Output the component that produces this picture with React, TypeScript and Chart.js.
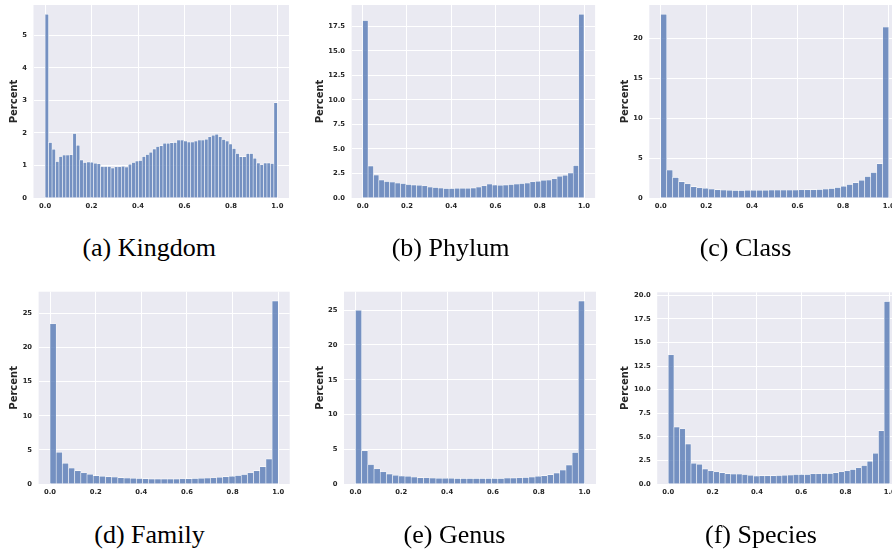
import React, { useEffect, useRef } from "react";
import { Chart, registerables } from "chart.js";

Chart.register(...registerables);

// ---------- data (percent of samples per bin, bins span [0, 1]) ----------
const xTicks = [0, 0.2, 0.4, 0.6, 0.8, 1.0];

const kingdomValues = [
  5.65, 1.71, 1.5, 1.12, 1.28, 1.32, 1.32, 1.33, 1.98, 1.62, 1.17, 1.09, 1.11, 1.1, 1.07, 1.05, 0.97,
  0.97, 0.97, 0.92, 0.96, 0.96, 0.98, 0.95, 1.04, 1.09, 1.14, 1.15, 1.28, 1.34, 1.41, 1.51, 1.58, 1.61,
  1.68, 1.68, 1.7, 1.71, 1.78, 1.78, 1.75, 1.72, 1.72, 1.75, 1.78, 1.78, 1.81, 1.88, 1.93, 1.96, 1.88,
  1.8, 1.75, 1.66, 1.52, 1.37, 1.27, 1.27, 1.37, 1.37, 1.22, 1.08, 1.02, 1.08, 1.08, 1.06, 2.93,
];
const phylumValues = [
  18.1, 3.27, 2.35, 1.85, 1.68, 1.63, 1.52, 1.47, 1.38, 1.34, 1.3, 1.24, 1.12, 1.08, 1.02, 0.98, 0.97,
  1.0, 1.0, 1.0, 1.03, 1.12, 1.25, 1.43, 1.33, 1.3, 1.34, 1.38, 1.42, 1.48, 1.53, 1.65, 1.72, 1.82,
  1.83, 1.96, 2.22, 2.33, 2.56, 3.32, 18.75,
];
const classValues = [
  23.0, 3.5, 2.58, 2.05, 1.78, 1.42, 1.28, 1.22, 1.12, 1.05, 1.0, 0.97, 0.95, 0.95, 0.96, 0.97, 0.97,
  0.98, 1.0, 1.0, 1.0, 1.0, 1.0, 1.02, 1.05, 1.05, 1.08, 1.12, 1.2, 1.32, 1.48, 1.68, 1.92, 2.22, 2.68,
  3.18, 4.3, 21.4,
];
const familyValues = [
  23.5, 4.65, 3.05, 2.35, 1.95, 1.65, 1.42, 1.22, 1.15, 1.07, 1.02, 0.93, 0.88, 0.86, 0.8, 0.78, 0.74,
  0.74, 0.74, 0.74, 0.74, 0.76, 0.78, 0.82, 0.84, 0.87, 0.92, 1.0, 1.07, 1.15, 1.26, 1.38, 1.65, 1.95,
  2.55, 3.68, 26.85,
];
const genusValues = [
  25.0, 4.8, 2.8, 2.2, 1.75, 1.45, 1.25, 1.15, 1.1, 1.0, 0.92, 0.9, 0.85, 0.82, 0.82, 0.82, 0.8, 0.8,
  0.8, 0.8, 0.8, 0.8, 0.8, 0.8, 0.85, 0.88, 0.9, 0.95, 1.0, 1.1, 1.2, 1.35, 1.6, 2.0, 2.75, 4.55, 26.35,
];
const speciesValues = [
  13.7, 6.05, 5.85, 4.25, 2.2, 2.1, 1.6, 1.4, 1.3, 1.2, 1.1, 1.05, 1.05, 1.0, 0.92, 0.85, 0.88, 0.88,
  0.88, 0.9, 0.92, 0.95, 1.0, 1.02, 1.0, 1.08, 1.08, 1.12, 1.12, 1.2, 1.3, 1.4, 1.55, 1.72, 1.95, 2.42,
  3.25, 5.65, 19.35,
];

const kingdomYTicks = [0, 1, 2, 3, 4, 5];
const phylumYTicks = [0, 2.5, 5, 7.5, 10, 12.5, 15, 17.5];
const classYTicks = [0, 5, 10, 15, 20];
const familyYTicks = [0, 5, 10, 15, 20, 25];
const genusYTicks = [0, 5, 10, 15, 20, 25];
const speciesYTicks = [0, 2.5, 5, 7.5, 10, 12.5, 15, 17.5, 20];

const captions = ["(a) Kingdom", "(b) Phylum", "(c) Class", "(d) Family", "(e) Genus", "(f) Species"];

// ---------- layout ----------
type Panel = {
  values: number[];
  yTicks: number[];
  yDecimals: number;
  caption: string;
  area: [number, number, number, number]; // left, top, right, bottom of plot area
  canvasLeft: number;
  canvasTop: number;
  titleX: number;
  capX: number;
  capBaseline: number;
};

const panels: Panel[] = [
  { values: kingdomValues, yTicks: kingdomYTicks, yDecimals: 0, caption: captions[0], area: [33.5, 5, 289, 198], canvasLeft: 0, canvasTop: 0, titleX: 14, capX: 149.2, capBaseline: 257 },
  { values: phylumValues, yTicks: phylumYTicks, yDecimals: 1, caption: captions[1], area: [351.6, 5, 595.1, 198], canvasLeft: 300, canvasTop: 0, titleX: 320, capX: 450.5, capBaseline: 257 },
  { values: classValues, yTicks: classYTicks, yDecimals: 0, caption: captions[2], area: [649.3, 5, 900.1, 198], canvasLeft: 600, canvasTop: 0, titleX: 625, capX: 745.5, capBaseline: 257 },
  { values: familyValues, yTicks: familyYTicks, yDecimals: 0, caption: captions[3], area: [38.6, 291.7, 289.7, 484], canvasLeft: 0, canvasTop: 285, titleX: 14.5, capX: 149.5, capBaseline: 543.5 },
  { values: genusValues, yTicks: genusYTicks, yDecimals: 0, caption: captions[4], area: [344, 291.7, 596, 484], canvasLeft: 300, canvasTop: 285, titleX: 320, capX: 454.5, capBaseline: 543.5 },
  { values: speciesValues, yTicks: speciesYTicks, yDecimals: 1, caption: captions[5], area: [657.2, 292.3, 900.9, 484], canvasLeft: 600, canvasTop: 285, titleX: 625, capX: 761, capBaseline: 543.5 },
];

const TEXT = "#262626";
const tickFont = { family: "DejaVu Sans", size: 6.8, weight: "bold" as const };

const bgPlugin = {
  id: "darkgridBg",
  beforeDraw(chart: any) {
    const { ctx, chartArea: a } = chart;
    ctx.save();
    ctx.fillStyle = "#EAEAF2";
    ctx.fillRect(a.left, a.top, a.right - a.left, a.bottom - a.top);
    ctx.restore();
  },
};

function HistPanel({ p }: { p: Panel }) {
  const ref = useRef<HTMLCanvasElement | null>(null);
  const [L, T, R, B] = p.area;
  const cw = Math.ceil(R + 12 - p.canvasLeft);
  const ch = Math.ceil(B + 22 - p.canvasTop);

  useEffect(() => {
    if (!ref.current) return;
    const n = p.values.length;
    const yW = L - p.canvasLeft;
    const xH = ch - (B - p.canvasTop);
    const chart = new Chart(ref.current, {
      type: "bar",
      data: {
        datasets: [
          {
            data: p.values.map((v, i) => ({ x: (i + 0.5) / n, y: v })),
            backgroundColor: "rgba(76,114,176,0.75)",
            borderColor: "#ffffff",
            borderWidth: { top: 0.6, left: 0.55, right: 0.55, bottom: 0 },
            barPercentage: 1,
            categoryPercentage: 1,
          } as any,
        ],
      },
      options: {
        responsive: false,
        animation: false,
        devicePixelRatio: 1,
        layout: { padding: { left: 0, top: T - p.canvasTop, right: cw - (R - p.canvasLeft), bottom: 0 } },
        plugins: { legend: { display: false }, tooltip: { enabled: false } },
        scales: {
          x: {
            type: "linear",
            min: -0.05,
            max: 1.05,
            offset: false,
            grid: { color: "#ffffff", lineWidth: 1, drawTicks: false, offset: false },
            border: { display: false },
            ticks: {
              font: tickFont,
              color: TEXT,
              padding: 4.3,
              maxRotation: 0,
              autoSkip: false,
              callback: (v: any) => Number(v).toFixed(1),
            },
            afterBuildTicks: (s: any) => {
              s.ticks = xTicks.map((v) => ({ value: v }));
            },
            afterFit: (s: any) => {
              s.height = xH;
              s.paddingLeft = 0;
              s.paddingRight = 0;
            },
          },
          y: {
            type: "linear",
            min: 0,
            max: Math.max(...p.values) * 1.05,
            grid: { color: "#ffffff", lineWidth: 1, drawTicks: false },
            border: { display: false },
            ticks: {
              font: tickFont,
              color: TEXT,
              padding: 6.5,
              autoSkip: false,
              callback: (v: any) => Number(v).toFixed(p.yDecimals),
            },
            afterBuildTicks: (s: any) => {
              s.ticks = p.yTicks.map((v) => ({ value: v }));
            },
            afterFit: (s: any) => {
              s.width = yW;
              s.paddingTop = 0;
              s.paddingBottom = 0;
            },
            title: {
              display: true,
              text: "Percent",
              color: TEXT,
              font: { family: "DejaVu Sans", size: 10, weight: "bold" },
              padding: { top: p.titleX - p.canvasLeft - 6, bottom: 0 },
            },
          },
        },
      } as any,
      plugins: [bgPlugin],
    });
    return () => chart.destroy();
  }, []);

  const capSize = 26;
  return (
    <>
      <canvas
        ref={ref}
        width={cw}
        height={ch}
        style={{ position: "absolute", left: p.canvasLeft, top: p.canvasTop, width: cw, height: ch }}
      />
      <div
        style={{
          position: "absolute",
          left: p.capX - 150,
          width: 300,
          top: p.capBaseline - 0.8375 * capSize,
          textAlign: "center",
          fontFamily: '"Liberation Serif", serif',
          fontSize: capSize,
          lineHeight: `${capSize}px`,
          color: "#000",
          whiteSpace: "nowrap",
        }}
      >
        {p.caption}
      </div>
    </>
  );
}

export default function App() {
  useEffect(() => {
    document.body.style.margin = "0";
  }, []);
  return (
    <div
      style={{
        position: "fixed",
        left: 0,
        top: 0,
        width: 892,
        height: 552,
        overflow: "hidden",
        background: "#ffffff",
      }}
    >
      {panels.map((p, i) => (
        <HistPanel key={i} p={p} />
      ))}
    </div>
  );
}
